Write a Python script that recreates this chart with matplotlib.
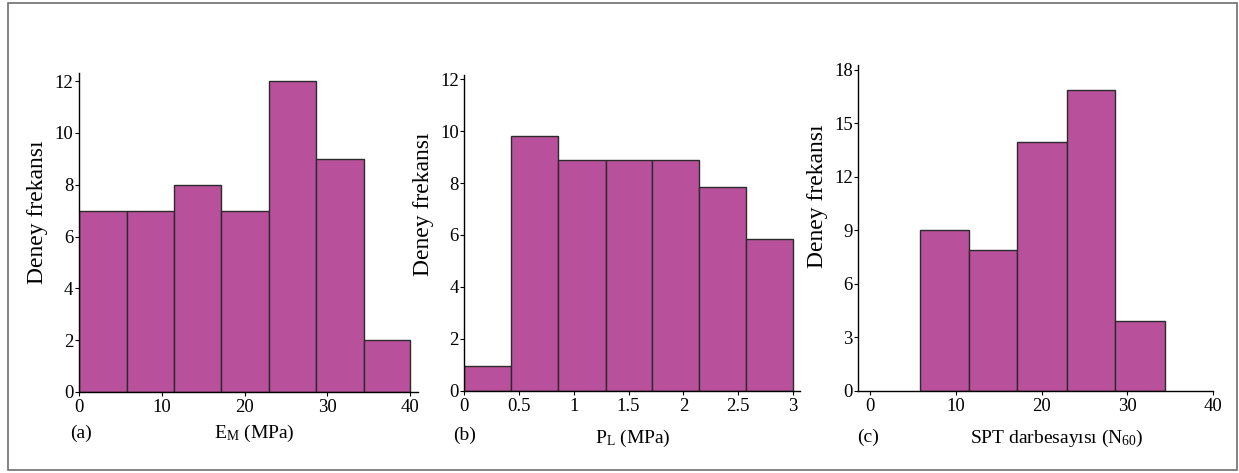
import matplotlib

matplotlib.use("Agg")
import matplotlib.pyplot as plt
from matplotlib.patches import Rectangle

plt.rcParams["font.family"] = ["Liberation Serif", "DejaVu Serif"]
plt.rcParams["mathtext.fontset"] = "custom"
plt.rcParams["mathtext.rm"] = "Liberation Serif"
plt.rcParams["mathtext.it"] = "Liberation Serif:italic"

# (a) pressuremeter modulus E_M
em_edges = [0, 5.75, 11.5, 17.2, 22.95, 28.6, 34.4, 40]
em_counts = [7, 7, 8, 7, 12, 9, 2]
em_ticks = [0, 10, 20, 30, 40]
em_yticks = [0, 2, 4, 6, 8, 10, 12]

# (b) limit pressure P_L
pl_edges = [0, 0.43, 0.86, 1.29, 1.71, 2.14, 2.57, 3.0]
pl_counts = [0.97, 9.8, 8.88, 8.88, 8.88, 7.86, 5.86]
pl_ticks = [0, 0.5, 1, 1.5, 2, 2.5, 3]
pl_ticklabels = ["0", "0.5", "1", "1.5", "2", "2.5", "3"]
pl_yticks = [0, 2, 4, 6, 8, 10, 12]

# (c) SPT blow count N60
spt_edges = [5.75, 11.55, 17.15, 22.95, 28.6, 34.35]
spt_counts = [9, 7.87, 13.96, 16.85, 3.92]
spt_ticks = [0, 10, 20, 30, 40]
spt_yticks = [0, 3, 6, 9, 12, 15, 18]

BAR_COLOR = "#b8509c"
EDGE_COLOR = "#2b2b2b"
W, H = 1239, 473


def px_box(x0, x1, y_bottom, y_top):
    return [x0 / W, 1 - y_bottom / H, (x1 - x0) / W, (y_bottom - y_top) / H]


def draw_hist(ax, edges, counts):
    widths = [b - a for a, b in zip(edges[:-1], edges[1:])]
    ax.bar(edges[:-1], counts, width=widths, align="edge",
           color=BAR_COLOR, edgecolor=EDGE_COLOR, linewidth=1.0, zorder=2)


def style_axes(ax):
    for side in ("top", "right"):
        ax.spines[side].set_visible(False)
    for side in ("left", "bottom"):
        ax.spines[side].set_linewidth(1.0)
        ax.spines[side].set_zorder(3)
    ax.tick_params(axis="both", direction="out", length=3, width=0.8,
                   labelsize=13.5, pad=1)
    ax.tick_params(axis="x", pad=2)


fig = plt.figure(figsize=(W / 100, H / 100), dpi=100)

ax_a = fig.add_axes(px_box(79, 418.3, 392, 73.4))
draw_hist(ax_a, em_edges, em_counts)
ax_a.set_xlim(0, 41)
ax_a.set_ylim(0, 12.3)
ax_a.set_xticks(em_ticks)
ax_a.set_yticks(em_yticks)
style_axes(ax_a)

ax_b = fig.add_axes(px_box(464.3, 800, 390.7, 75.4))
draw_hist(ax_b, pl_edges, pl_counts)
ax_b.set_xlim(0, 3.065)
ax_b.set_ylim(0, 12.15)
ax_b.set_xticks(pl_ticks)
ax_b.set_xticklabels(pl_ticklabels)
ax_b.set_yticks(pl_yticks)
style_axes(ax_b)

ax_c = fig.add_axes(px_box(858.3, 1213, 390.7, 64.6))
draw_hist(ax_c, spt_edges, spt_counts)
ax_c.set_xlim(-1.4, 40)
ax_c.set_ylim(0, 18.3)
ax_c.set_xticks(spt_ticks)
ax_c.set_yticks(spt_yticks)
style_axes(ax_c)


def fig_text(x, y, s, **kw):
    fig.text(x / W, 1 - y / H, s, ha="center", va="center", **kw)


# axis titles and panel tags
for x, y in [(37.5, 212.5), (424, 204), (817, 196)]:
    fig_text(x, y, "Deney frekansı", rotation=90, fontsize=17)

fig_text(81, 433, "(a)", fontsize=14)
fig_text(254, 433, r"E$_{\mathrm{M}}$ (MPa)", fontsize=14)
fig_text(465, 435, "(b)", fontsize=14)
fig_text(633, 438, r"P$_{\mathrm{L}}$ (MPa)", fontsize=14)
fig_text(868, 437, "(c)", fontsize=14)
fig_text(1057, 438, r"SPT darbesayısı (N$_{60}$)", fontsize=14)

# thin frame around the whole figure
fig.patches.append(Rectangle((8 / W, 1 - 470 / H), 1229 / W, 467 / H,
                             transform=fig.transFigure, fill=False,
                             edgecolor="#6e6e6e", linewidth=1.2))

fig.savefig("out.png", dpi=100)
